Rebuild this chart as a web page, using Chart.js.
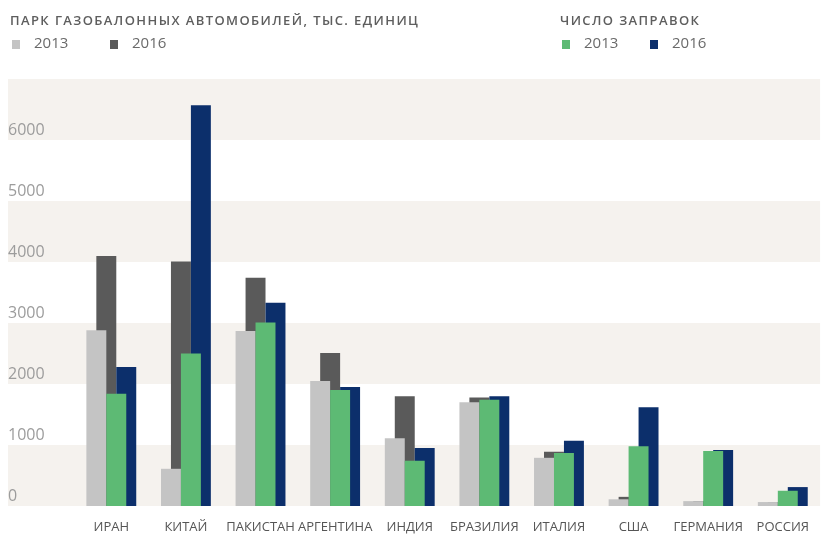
<!DOCTYPE html>
<html lang="ru">
<head>
<meta charset="utf-8">
<script src="https://cdn.jsdelivr.net/npm/chart.js@4"></script>
<style>
  body { margin: 0; background: #fff; font-family: 'Open Sans', sans-serif; }
  #wrap { position: relative; width: 822px; height: 534px; }
  #grafico { position: absolute; left: 0; top: 0; }
  .legenda { position: absolute; top: 11px; color: #5e5e5e; }
  .legenda .titulo { font-size: 13px; font-weight: 600; letter-spacing: 1.4px; white-space: nowrap; }
  .legenda .itens { margin-top: 3px; font-size: 15px; color: #6a6a6a; white-space: nowrap; }
  .legenda .item { display: inline-block; }
  .legenda .quad { display: inline-block; width: 8px; height: 9px; margin: 0 14px 0 2px; vertical-align: -1px; }
</style>
</head>
<body>
<div id="wrap">
  <canvas id="grafico" width="822" height="534"></canvas>
  <div class="legenda" style="left:10px">
    <div class="titulo">ПАРК ГАЗОБАЛОННЫХ АВТОМОБИЛЕЙ, ТЫС. ЕДИНИЦ</div>
    <div class="itens" id="legParque"></div>
  </div>
  <div class="legenda" style="left:560px">
    <div class="titulo">ЧИСЛО ЗАПРАВОК</div>
    <div class="itens" id="legPostos"></div>
  </div>
</div>
<script>
const paises = ['ИРАН', 'КИТАЙ', 'ПАКИСТАН', 'АРГЕНТИНА', 'ИНДИЯ', 'БРАЗИЛИЯ', 'ИТАЛИЯ', 'США', 'ГЕРМАНИЯ', 'РОССИЯ'];
const parque2013 = [2880, 610, 2870, 2050, 1110, 1700, 790, 110, 80, 65];
const parque2016 = [4100, 4010, 3740, 2510, 1800, 1780, 890, 150, 80, 65];
const postos2013 = [1840, 2500, 3010, 1900, 740, 1740, 870, 980, 900, 250];
const postos2016 = [2280, 6570, 3330, 1950, 950, 1800, 1070, 1620, 920, 310];
const anos = ['2013', '2016'];

// largura de cada categoria (area do grafico / 10 paises)
const larguraCat = (822 - 74) / paises.length;

const faixas = {
  id: 'faixas',
  beforeDraw(chart) {
    const { ctx, chartArea, scales: { y } } = chart;
    ctx.save();
    ctx.fillStyle = '#f5f2ee';
    y.ticks.forEach((t, i) => {
      if (i % 2 !== 0 || i + 1 >= y.ticks.length) return;
      const topo = y.getPixelForValue(y.ticks[i + 1].value);
      const base = y.getPixelForValue(t.value);
      ctx.fillRect(y.left, topo, chartArea.right - y.left, base - topo);
    });
    ctx.restore();
  }
};

// ordem de desenho: cinza escuro e azul atras, cinza claro e verde na frente
const camadas = {
  id: 'camadas',
  beforeDatasetDraw() { return false; },
  afterDatasetsDraw(chart) {
    [1, 3, 0, 2].forEach(i => chart.getDatasetMeta(i).controller.draw());
  }
};

const ctx = document.getElementById('grafico').getContext('2d');
const grafico = new Chart(ctx, {
  type: 'bar',
  data: {
    labels: paises,
    datasets: [
      { label: anos[0], data: parque2013, backgroundColor: '#c4c4c4' },
      { label: anos[1], data: parque2016, backgroundColor: '#5a5a5a' },
      { label: anos[0], data: postos2013, backgroundColor: '#5dba74' },
      { label: anos[1], data: postos2016, backgroundColor: '#0c2f6b' }
    ]
  },
  options: {
    responsive: false,
    animation: false,
    categoryPercentage: 40 / larguraCat,
    barPercentage: 2,
    layout: { padding: { left: 8, top: 79, right: 0, bottom: 0 } },
    plugins: { legend: { display: false }, tooltip: { enabled: false } },
    scales: {
      x: {
        grid: { display: false, drawTicks: false },
        border: { display: false },
        afterFit: s => { s.height = 28; },
        ticks: { padding: 13, color: '#555', maxRotation: 0, autoSkip: false,
                 font: { family: 'Open Sans', size: 13 } }
      },
      y: {
        min: 0, max: 7000,
        grid: { display: false, drawTicks: false },
        border: { display: false },
        afterFit: s => { s.width = 66; },
        ticks: { stepSize: 1000, crossAlign: 'far', labelOffset: -10, color: '#9c9c9c',
                 font: { family: 'Open Sans', size: 16 },
                 callback: v => v >= 7000 ? '' : v }
      }
    }
  },
  plugins: [faixas, camadas]
});

// legenda em html
function montaLegenda(id, idxs, passo) {
  const div = document.getElementById(id);
  idxs.forEach(i => {
    const ds = grafico.data.datasets[i];
    const item = document.createElement('span');
    item.className = 'item';
    item.style.width = passo + 'px';
    item.innerHTML = `<span class="quad" style="background:${ds.backgroundColor}"></span>${ds.label}`;
    div.appendChild(item);
  });
}
montaLegenda('legParque', [0, 1], 98);
montaLegenda('legPostos', [2, 3], 88);
</script>
</body>
</html>
